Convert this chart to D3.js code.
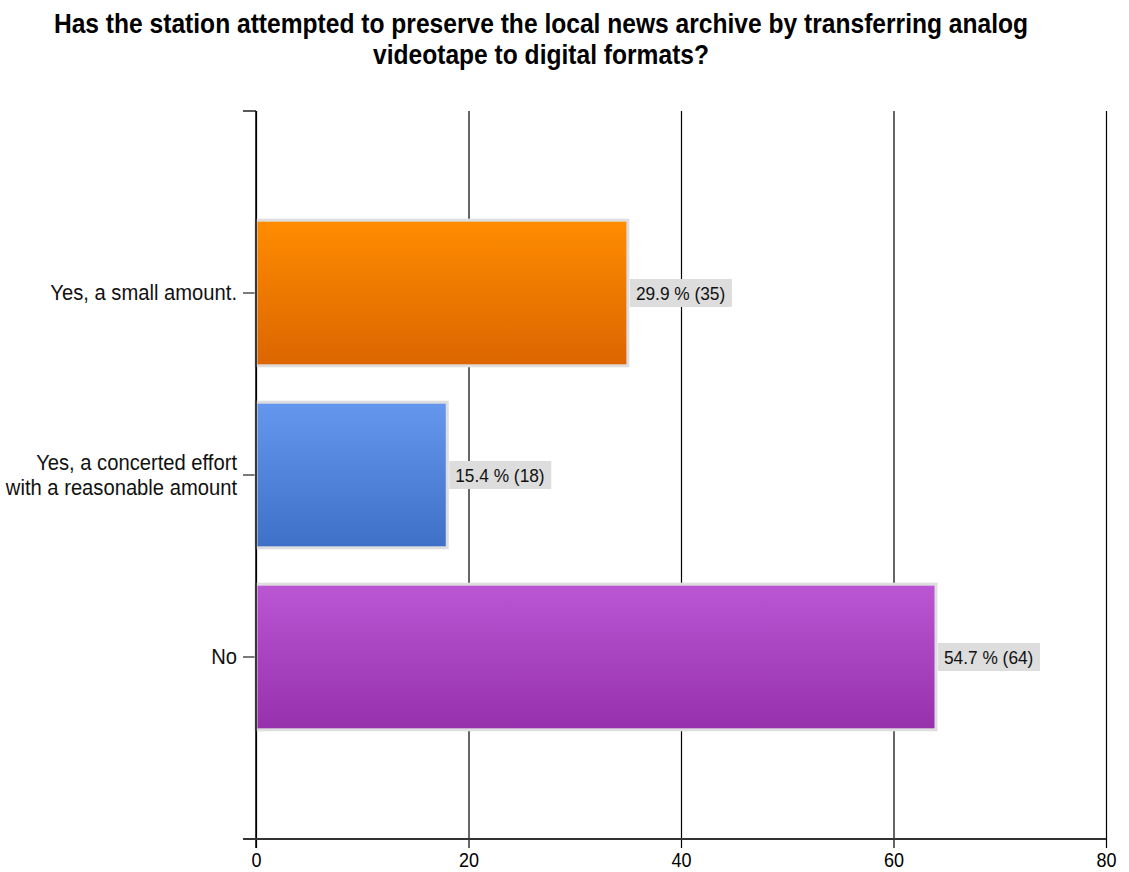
<!DOCTYPE html>
<html>
<head>
<meta charset="utf-8">
<script src="https://cdn.jsdelivr.net/npm/d3@7"></script>
<style>
  html, body { margin: 0; padding: 0; background: #ffffff; }
  svg { display: block; font-family: Arial, "Liberation Sans", sans-serif; }
</style>
</head>
<body>
<svg id="chart" width="1129" height="872"></svg>
<script>
const titleLines = ["Has the station attempted to preserve the local news archive by transferring analog",
                    "videotape to digital formats?"];
const categories = ["Yes, a small amount.", "Yes, a concerted effort\nwith a reasonable amount", "No"];
const counts = [35, 18, 64];
const percents = [29.9, 15.4, 54.7];
const xTicks = [0, 20, 40, 60, 80];
const colorTop = ["#ff8c00", "#6597ee", "#bb56d4"];
const colorBottom = ["#dc6500", "#3f70c7", "#9630ab"];

(function () {
const svg = d3.select("#chart");
const mLeft = 256, mRight = 1106, mTop = 111, mBottom = 839;
const SY = 1.1; // vertical stretch of text glyphs

const x = d3.scaleLinear().domain([0, 80]).range([mLeft, mRight]);
const y = d3.scaleBand().domain(categories).range([mTop, mBottom]).paddingInner(0.2).paddingOuter(0.6);

// Title
svg.append("g").selectAll("text").data(titleLines).join("text")
  .attr("transform", (d, i) => `translate(541,${33 + i * 31}) scale(1,${SY})`)
  .attr("text-anchor", "middle")
  .attr("font-weight", "bold").attr("font-size", 24.6).attr("fill", "#000")
  .text(d => d);

// Gradients
const defs = svg.append("defs");
categories.forEach((c, i) => {
  const g = defs.append("linearGradient").attr("id", "grad" + i)
    .attr("x1", 0).attr("y1", 0).attr("x2", 0).attr("y2", 1);
  g.append("stop").attr("offset", "0%").attr("stop-color", colorTop[i]);
  g.append("stop").attr("offset", "100%").attr("stop-color", colorBottom[i]);
});

// Vertical gridlines (with ticks below the axis)
const xAxis = d3.axisBottom(x).tickValues(xTicks).tickSize(-(mBottom - mTop)).tickSizeOuter(0);
const gx = svg.append("g").attr("transform", `translate(0,${mBottom})`).call(xAxis);
gx.select(".domain").remove();
gx.selectAll(".tick line").attr("stroke", "#000").attr("stroke-width", 1.2).attr("y2", -(mBottom - mTop)).attr("y1", 9);
gx.selectAll(".tick text")
  .attr("y", null).attr("dy", null)
  .attr("transform", `translate(0,28) scale(1,${SY})`)
  .attr("font-size", 18).attr("fill", "#000").attr("font-family", "Arial, 'Liberation Sans', sans-serif");

// Left axis
const yAxis = d3.axisLeft(y).tickSize(13).tickSizeOuter(0).tickFormat("");
const gy = svg.append("g").attr("transform", `translate(${mLeft},0)`).call(yAxis);
gy.select(".domain").remove();
gy.selectAll(".tick line").attr("stroke", "#222").attr("stroke-width", 1.2);

// Top-left tick
svg.append("line").attr("x1", mLeft - 13).attr("x2", mLeft).attr("y1", mTop).attr("y2", mTop)
  .attr("stroke", "#222").attr("stroke-width", 1.5);

// Bars
svg.append("g").selectAll("rect").data(categories).join("rect")
  .attr("x", x(0))
  .attr("y", d => y(d))
  .attr("width", (d, i) => x(counts[i]) - x(0))
  .attr("height", y.bandwidth())
  .attr("fill", (d, i) => `url(#grad${i})`)
  .attr("stroke", "#dedede").attr("stroke-width", 3);

// Axis lines
svg.append("line").attr("x1", mLeft).attr("x2", mLeft).attr("y1", mTop).attr("y2", mBottom + 9)
  .attr("stroke", "#000").attr("stroke-width", 1.5);
svg.append("line").attr("x1", mLeft - 13).attr("x2", mRight).attr("y1", mBottom).attr("y2", mBottom)
  .attr("stroke", "#333").attr("stroke-width", 2);

// Category labels
const catG = svg.append("g");
categories.forEach((c, i) => {
  const lines = c.split("\n");
  const cy = y(c) + y.bandwidth() / 2;
  const n = lines.length;
  lines.forEach((l, j) => {
    catG.append("text")
      .attr("transform", `translate(237,${cy + (j - (n - 1) / 2) * 25 + 7}) scale(1,${SY})`)
      .attr("text-anchor", "end")
      .attr("font-size", 20.2).attr("fill", "#111")
      .text(l);
  });
});

// Value labels
const vG = svg.append("g");
categories.forEach((c, i) => {
  const cy = y(c) + y.bandwidth() / 2;
  const bx = x(counts[i]) + 2;
  vG.append("rect").attr("x", bx).attr("y", cy - 14).attr("width", 102).attr("height", 28)
    .attr("fill", "#dddddd");
  vG.append("text")
    .attr("transform", `translate(${bx + 6},${cy + 6.5}) scale(1,${SY})`)
    .attr("font-size", 17.3).attr("fill", "#111")
    .text(`${percents[i].toFixed(1)} % (${counts[i]})`);
});
})();
</script>
</body>
</html>
